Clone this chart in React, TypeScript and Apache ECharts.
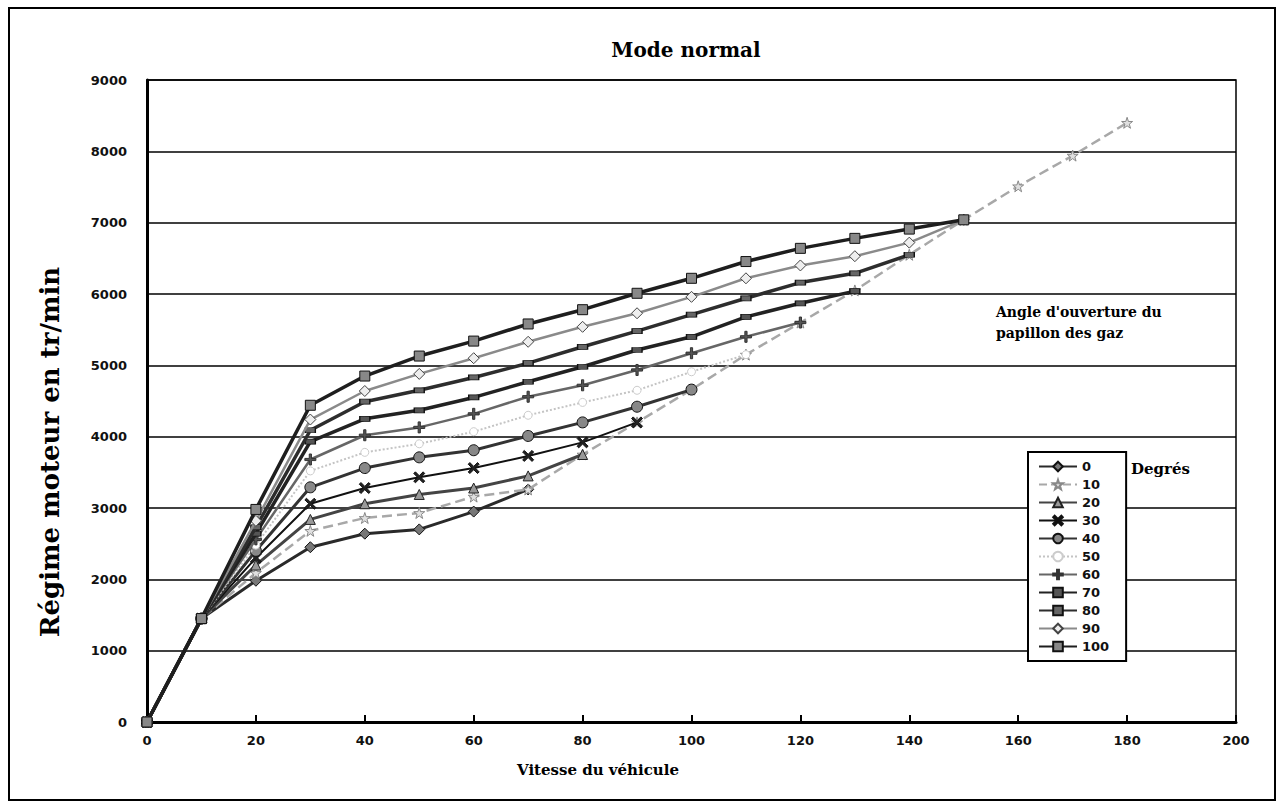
import React, { useEffect, useRef } from "react";
import * as echarts from "echarts";

const speeds = [0, 10, 20, 30, 40, 50, 60, 70, 80, 90, 100, 110, 120, 130, 140, 150, 160, 170, 180];

const angleLabels = ["0", "10", "20", "30", "40", "50", "60", "70", "80", "90", "100"];

const rpm0 = [0, 1450, 1980, 2450, 2640, 2700, 2950, 3260];
const rpm10 = [0, 1450, 2090, 2680, 2860, 2930, 3160, 3260, 3750, 4200, 4660, 5150, 5600, 6050, 6550, 7040, 7510, 7940, 8400];
const rpm20 = [0, 1450, 2200, 2840, 3060, 3190, 3280, 3450, 3750];
const rpm30 = [0, 1450, 2300, 3060, 3280, 3430, 3560, 3730, 3920, 4200];
const rpm40 = [0, 1450, 2400, 3290, 3560, 3710, 3810, 4010, 4200, 4420, 4660];
const rpm50 = [0, 1450, 2480, 3520, 3780, 3900, 4070, 4300, 4480, 4650, 4910, 5150];
const rpm60 = [0, 1450, 2560, 3680, 4020, 4130, 4320, 4560, 4720, 4935, 5170, 5400, 5600];
const rpm70 = [0, 1450, 2640, 3930, 4250, 4370, 4550, 4770, 4980, 5215, 5400, 5680, 5870, 6040];
const rpm80 = [0, 1450, 2730, 4090, 4490, 4650, 4830, 5030, 5260, 5480, 5710, 5940, 6160, 6290, 6550];
const rpm90 = [0, 1450, 2820, 4240, 4640, 4880, 5100, 5330, 5540, 5730, 5960, 6220, 6400, 6530, 6720, 7040];
const rpm100 = [0, 1450, 2980, 4440, 4850, 5130, 5340, 5580, 5780, 6010, 6220, 6455, 6640, 6780, 6910, 7040];

const allRpm = [rpm0, rpm10, rpm20, rpm30, rpm40, rpm50, rpm60, rpm70, rpm80, rpm90, rpm100];

const STAR = "path://M5,0 L6.2,3.8 L10,3.8 L7,6.2 L8.1,10 L5,7.7 L1.9,10 L3,6.2 L0,3.8 L3.8,3.8 Z";
const XMARK = "path://M0,1.5 L1.5,0 L5,3.5 L8.5,0 L10,1.5 L6.5,5 L10,8.5 L8.5,10 L5,6.5 L1.5,10 L0,8.5 L3.5,5 Z";
const PLUS = "path://M4,0 H6 V4 H10 V6 H6 V10 H4 V6 H0 V4 H4 Z";

const styles = [
  { line: "#2a2a2a", type: "solid", width: 3, symbol: "diamond", size: 11, fill: "#777", border: "#111" },
  { line: "#a8a8a8", type: "dashed", width: 2.5, symbol: STAR, size: 11, fill: "#e0e0e0", border: "#888" },
  { line: "#444", type: "solid", width: 3, symbol: "triangle", size: 10, fill: "#999", border: "#222" },
  { line: "#111", type: "solid", width: 2, symbol: XMARK, size: 11, fill: "#222", border: "#111" },
  { line: "#333", type: "solid", width: 3, symbol: "circle", size: 11, fill: "#888", border: "#111" },
  { line: "#c4c4c4", type: "dotted", width: 2, symbol: "circle", size: 8, fill: "#fff", border: "#ccc" },
  { line: "#666", type: "solid", width: 2.5, symbol: PLUS, size: 11, fill: "#555", border: "#333" },
  { line: "#222", type: "solid", width: 3.5, symbol: "rect", size: [10, 5], fill: "#555", border: "#111" },
  { line: "#2d2d2d", type: "solid", width: 3.5, symbol: "rect", size: [10, 5], fill: "#666", border: "#111" },
  { line: "#8a8a8a", type: "solid", width: 2.5, symbol: "diamond", size: 11, fill: "#eee", border: "#444" },
  { line: "#1e1e1e", type: "solid", width: 3.5, symbol: "rect", size: 10, fill: "#888", border: "#111" },
];

const SERIF = "'DejaVu Serif', 'Liberation Serif', serif";
const SANS = "'DejaVu Sans', 'Liberation Sans', sans-serif";

export default function App() {
  const ref = useRef<HTMLDivElement>(null);

  useEffect(() => {
    if (!ref.current) return;
    const chart = echarts.init(ref.current, null, { renderer: "svg" });

    const series = allRpm.map((vals, i) => {
      const s = styles[i];
      return {
        name: angleLabels[i],
        type: "line",
        data: vals.map((v, j) => [speeds[j], v]),
        symbol: s.symbol,
        symbolSize: s.size,
        showSymbol: true,
        lineStyle: { color: s.line, width: s.width, type: s.type },
        itemStyle: { color: s.fill, borderColor: s.border, borderWidth: 1 },
        z: 2 + i,
      };
    });

    chart.setOption({
      animation: false,
      backgroundColor: "#fff",
      grid: {
        left: 147,
        right: 43,
        top: 80,
        bottom: 88,
        show: true,
        borderColor: "#000",
        borderWidth: 1.5,
      },
      xAxis: {
        type: "value",
        min: 0,
        max: 200,
        interval: 20,
        axisLine: { show: true, lineStyle: { color: "#000", width: 3 } },
        axisTick: { show: true, inside: true, length: 7, lineStyle: { color: "#000", width: 2 } },
        axisLabel: {
          color: "#111",
          fontFamily: SANS,
          fontWeight: "bold",
          fontSize: 13,
          margin: 12,
          formatter: (v: number) => String(v),
        },
        splitLine: { show: false },
      },
      yAxis: {
        type: "value",
        min: 0,
        max: 9000,
        interval: 1000,
        axisLine: { show: true, lineStyle: { color: "#000", width: 3 } },
        axisTick: { show: false },
        axisLabel: {
          color: "#111",
          fontFamily: SANS,
          fontWeight: "bold",
          fontSize: 13,
          margin: 20,
          formatter: (v: number) => String(v),
        },
        splitLine: { show: true, lineStyle: { color: "#000", width: 1.5 } },
      },
      legend: {
        orient: "vertical",
        left: 1028,
        top: 452,
        data: angleLabels,
        itemWidth: 38,
        itemHeight: 12,
        itemGap: 5,
        padding: [8, 17, 8, 10],
        borderColor: "#000",
        borderWidth: 2,
        backgroundColor: "#fff",
        textStyle: { color: "#111", fontFamily: SANS, fontWeight: "bold", fontSize: 13, lineHeight: 12 },
      },
      graphic: [
        {
          type: "rect",
          shape: { x: 9, y: 8, width: 1266, height: 792 },
          style: { fill: "none", stroke: "#000", lineWidth: 2 },
          silent: true,
        },
        {
          type: "text",
          x: 686,
          y: 50,
          style: {
            text: "Mode normal",
            font: `bold 20px ${SERIF}`,
            fill: "#000",
            textAlign: "center",
            textVerticalAlign: "middle",
          },
        },
        {
          type: "text",
          x: 598,
          y: 770,
          style: {
            text: "Vitesse du véhicule",
            font: `bold 15px ${SERIF}`,
            fill: "#000",
            textAlign: "center",
            textVerticalAlign: "middle",
          },
        },
        {
          type: "text",
          x: 50,
          y: 452,
          rotation: Math.PI / 2,
          style: {
            text: "Régime moteur en tr/min",
            font: `bold 26px ${SERIF}`,
            fill: "#000",
            textAlign: "center",
            textVerticalAlign: "middle",
          },
        },
        {
          type: "text",
          x: 996,
          y: 312,
          style: {
            text: "Angle d'ouverture du",
            font: `bold 14px ${SERIF}`,
            fill: "#000",
            textAlign: "left",
            textVerticalAlign: "middle",
          },
        },
        {
          type: "text",
          x: 996,
          y: 333,
          style: {
            text: "papillon des gaz",
            font: `bold 14px ${SERIF}`,
            fill: "#000",
            textAlign: "left",
            textVerticalAlign: "middle",
          },
        },
        {
          type: "text",
          x: 1131,
          y: 469,
          style: {
            text: "Degrés",
            font: `bold 15px ${SERIF}`,
            fill: "#000",
            textAlign: "left",
            textVerticalAlign: "middle",
          },
        },
      ],
      series,
    });

    return () => chart.dispose();
  }, []);

  return (
    <div
      ref={ref}
      style={{ position: "fixed", left: 0, top: 0, width: 1279, height: 810, background: "#fff" }}
    />
  );
}
